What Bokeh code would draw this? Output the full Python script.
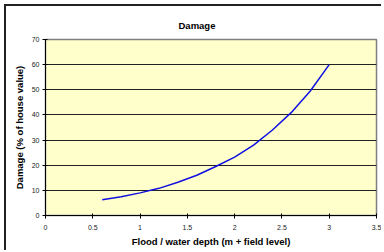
from bokeh.plotting import figure
from bokeh.models import Range1d, FixedTicker, Title
from bokeh.embed import file_html
from bokeh.resources import INLINE

depth = [0.6, 0.8, 1.0, 1.2, 1.4, 1.6, 1.8, 2.0, 2.2, 2.4, 2.6, 2.8, 3.0]
damage = [6.3, 7.5, 9.0, 10.8, 13.2, 16.0, 19.5, 23.2, 28.0, 34.0, 41.0, 49.5, 60.0]
x_ticks = [0, 0.5, 1, 1.5, 2, 2.5, 3, 3.5]
y_ticks = [0, 10, 20, 30, 40, 50, 60, 70]

FONT = "Liberation Sans"

p = figure(width=377, height=246, output_backend="svg", toolbar_location=None,
           x_range=Range1d(0, 3.5), y_range=Range1d(0, 70),
           min_border_left=39, min_border_top=33, min_border_right=7, min_border_bottom=37)
p.title = None
t = Title(text="Damage", align="left", text_font=FONT, text_font_size="9.5px",
          text_font_style="bold", text_color="black", offset=133, standoff=17)
p.add_layout(t, "above")

p.background_fill_color = "#FFFFCC"
p.border_fill_color = "white"
p.outline_line_color = "#808080"
p.outline_line_width = 1.5
p.styles = {"border-top": "2px solid #222", "border-left": "2px solid #222",
            "margin-left": "4px", "margin-top": "4px"}

p.line(depth, damage, line_color="#1010E0", line_width=1.5)

p.xaxis.ticker = FixedTicker(ticks=x_ticks)
p.yaxis.ticker = FixedTicker(ticks=y_ticks)
p.xaxis.major_label_overrides = {0: "0", 0.5: "0.5", 1: "1", 1.5: "1.5", 2: "2", 2.5: "2.5", 3: "3", 3.5: "3.5"}
for ax in (p.xaxis, p.yaxis):
    ax.axis_line_color = "black"
    ax.axis_line_width = 1
    ax.major_tick_line_color = "black"
    ax.major_tick_in = 2
    ax.major_tick_out = 3
    ax.minor_tick_line_color = None
    ax.major_label_text_font = FONT
    ax.major_label_text_font_size = "7px"
    ax.major_label_text_color = "#222"
    ax.axis_label_text_font = FONT
    ax.axis_label_text_font_size = "9.5px"
    ax.axis_label_text_font_style = "bold"
    ax.axis_label_text_color = "black"
p.xaxis.axis_label = "Flood / water depth (m + field level)"
p.yaxis.axis_label = "Damage (% of house value)"
p.xaxis.major_label_standoff = 6
p.yaxis.major_label_standoff = 3
p.xaxis.axis_label_standoff = 3
p.yaxis.axis_label_standoff = 4

p.xgrid.grid_line_color = None
p.ygrid.grid_line_color = "#222"
p.ygrid.grid_line_width = 1.2

open("out.html", "w").write(file_html(p, INLINE))
